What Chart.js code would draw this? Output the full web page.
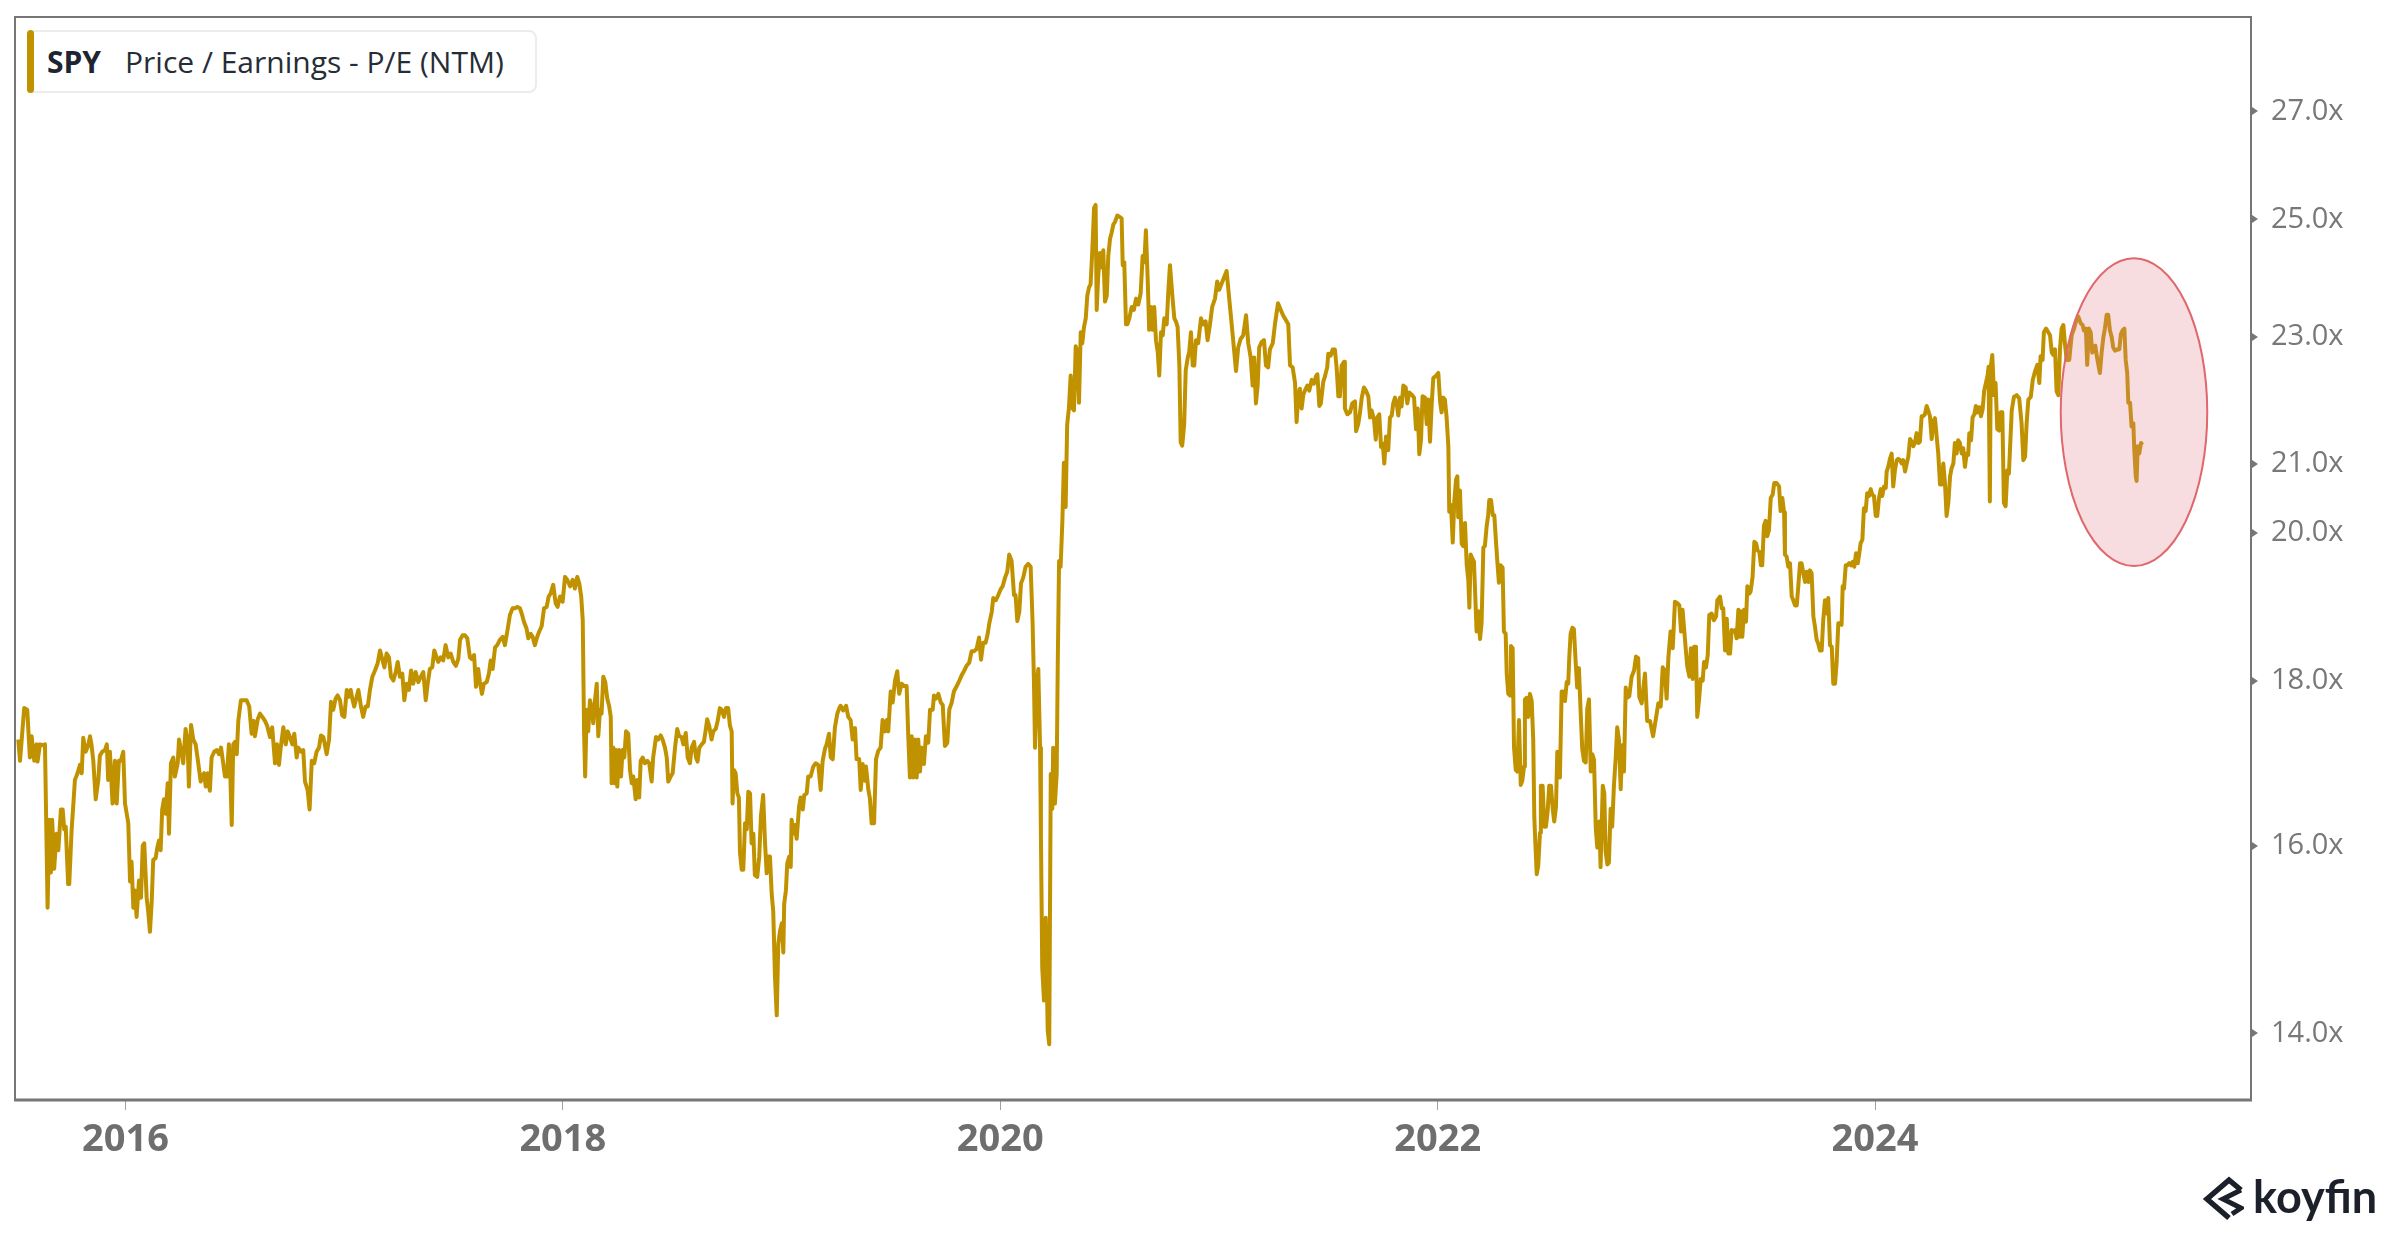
<!DOCTYPE html>
<html>
<head>
<meta charset="utf-8">
<title>SPY Price / Earnings - P/E (NTM)</title>
<script src="https://cdn.jsdelivr.net/npm/chart.js@4.4.1/dist/chart.umd.min.js"></script>
<style>
    html, body { margin: 0; padding: 0; background: #ffffff; }
    #wrap { position: relative; width: 2400px; height: 1240px; overflow: hidden; }
    #chart { position: absolute; left: 0; top: 0; }
    #legend {
        position: absolute; left: 27px; top: 30px; width: 510px; height: 63px;
        box-sizing: border-box; border: 2px solid #ececec; border-radius: 8px;
        font-family: "Open Sans", sans-serif; font-size: 30px; color: #262d36;
        background: #ffffff;
    }
    #legend .bar {
        position: absolute; left: -2px; top: -2px; bottom: -2px; width: 7px;
        background: #c19200; border-radius: 5px;
    }
    #legend .ticker { position: absolute; left: 18px; top: 50%; transform: translateY(-52%); font-weight: 700; color: #1e2530; }
    #legend .name { position: absolute; left: 96px; top: 50%; transform: translateY(-52%); }
    #logo { position: absolute; left: 2202px; top: 1176px; height: 46px; display: flex; align-items: center; }
    #logo span { font-family: Lato, sans-serif; font-weight: 700; font-size: 45px; color: #1b202a; margin-left: 9px; line-height: 46px; position: relative; top: -3px; }
</style>
</head>
<body>
<div id="wrap">
    <canvas id="chart" width="2400" height="1240"></canvas>
    <div id="legend"><div class="bar"></div><span class="ticker">SPY</span><span class="name">Price / Earnings - P/E (NTM)</span></div>
    <div id="logo">
        <svg width="42" height="46" viewBox="0 0 42 46">
            <path d="M39,14 L27,4 L5,23 L27,42" fill="none" stroke="#1b202a" stroke-width="5.5" stroke-linejoin="miter"/>
            <path d="M39,14 L21,23 L39,32 L30,38" fill="none" stroke="#1b202a" stroke-width="5" stroke-linejoin="miter"/>
        </svg>
        <span>koyfin</span>
    </div>
</div>
<script>
// SPY forward P/E (x = decimal year)
const years = [
    2015.510, 2015.518, 2015.537, 2015.551, 2015.563, 2015.571, 2015.583, 2015.594, 2015.598, 2015.609,
    2015.620, 2015.632, 2015.644, 2015.652, 2015.659, 2015.665, 2015.674, 2015.685, 2015.693, 2015.705,
    2015.713, 2015.720, 2015.727, 2015.738, 2015.743, 2015.754, 2015.761, 2015.769, 2015.781, 2015.792,
    2015.800, 2015.807, 2015.818, 2015.830, 2015.838, 2015.845, 2015.853, 2015.864, 2015.876, 2015.883,
    2015.894, 2015.906, 2015.915, 2015.921, 2015.929, 2015.941, 2015.952, 2015.960, 2015.970, 2015.979,
    2015.990, 2015.998, 2016.013, 2016.021, 2016.028, 2016.036, 2016.043, 2016.051, 2016.062, 2016.071,
    2016.079, 2016.086, 2016.097, 2016.104, 2016.112, 2016.120, 2016.127, 2016.138, 2016.145, 2016.153,
    2016.161, 2016.168, 2016.176, 2016.184, 2016.193, 2016.199, 2016.208, 2016.219, 2016.226, 2016.239,
    2016.245, 2016.257, 2016.264, 2016.275, 2016.284, 2016.290, 2016.300, 2016.310, 2016.321, 2016.333,
    2016.344, 2016.351, 2016.360, 2016.367, 2016.376, 2016.386, 2016.394, 2016.406, 2016.417, 2016.428,
    2016.437, 2016.447, 2016.455, 2016.464, 2016.473, 2016.478, 2016.486, 2016.493, 2016.501, 2016.509,
    2016.516, 2016.528, 2016.543, 2016.554, 2016.566, 2016.577, 2016.586, 2016.592, 2016.605, 2016.615,
    2016.626, 2016.638, 2016.648, 2016.661, 2016.671, 2016.684, 2016.693, 2016.702, 2016.710, 2016.722,
    2016.733, 2016.742, 2016.752, 2016.763, 2016.772, 2016.783, 2016.790, 2016.803, 2016.813, 2016.821,
    2016.833, 2016.842, 2016.852, 2016.863, 2016.874, 2016.885, 2016.894, 2016.905, 2016.920, 2016.931,
    2016.940, 2016.950, 2016.961, 2016.970, 2016.981, 2016.991, 2017.001, 2017.012, 2017.019, 2017.030,
    2017.037, 2017.046, 2017.057, 2017.065, 2017.077, 2017.087, 2017.098, 2017.108, 2017.118, 2017.129,
    2017.141, 2017.153, 2017.164, 2017.174, 2017.184, 2017.194, 2017.205, 2017.214, 2017.225, 2017.236,
    2017.245, 2017.255, 2017.266, 2017.275, 2017.286, 2017.296, 2017.306, 2017.316, 2017.327, 2017.339,
    2017.351, 2017.362, 2017.373, 2017.382, 2017.392, 2017.403, 2017.412,
    2017.430, 2017.441, 2017.453, 2017.464, 2017.476, 2017.487, 2017.499, 2017.511, 2017.522, 2017.530,
    2017.542, 2017.552, 2017.563, 2017.575, 2017.583, 2017.594, 2017.603, 2017.613, 2017.621, 2017.630,
    2017.639, 2017.652, 2017.662, 2017.670, 2017.679, 2017.690, 2017.700, 2017.712, 2017.725, 2017.735,
    2017.746, 2017.758, 2017.770, 2017.781, 2017.792, 2017.804, 2017.812, 2017.822, 2017.834, 2017.842,
    2017.853, 2017.862, 2017.872, 2017.883, 2017.892, 2017.903, 2017.914, 2017.926, 2017.935, 2017.944,
    2017.956, 2017.967, 2017.976, 2017.987, 2017.999, 2018.010, 2018.020, 2018.033, 2018.045, 2018.055,
    2018.066, 2018.075, 2018.084, 2018.091, 2018.097, 2018.102, 2018.109, 2018.116, 2018.124, 2018.133,
    2018.139, 2018.147, 2018.155, 2018.162, 2018.170, 2018.177, 2018.185, 2018.194, 2018.203, 2018.212,
    2018.219, 2018.223, 2018.231, 2018.237, 2018.243, 2018.249, 2018.257, 2018.266, 2018.273, 2018.281,
    2018.289, 2018.299, 2018.307, 2018.315, 2018.322, 2018.333, 2018.340, 2018.349, 2018.356, 2018.365,
    2018.375, 2018.386, 2018.395, 2018.406, 2018.413, 2018.426, 2018.436, 2018.447, 2018.456, 2018.467,
    2018.475, 2018.482, 2018.493, 2018.502, 2018.513, 2018.523, 2018.532, 2018.543, 2018.551, 2018.562,
    2018.571, 2018.581, 2018.589, 2018.600, 2018.609, 2018.616, 2018.624, 2018.635, 2018.645, 2018.654,
    2018.660, 2018.669, 2018.680, 2018.688, 2018.699, 2018.708, 2018.718, 2018.726, 2018.737, 2018.746,
    2018.756, 2018.764, 2018.772, 2018.776, 2018.782, 2018.790, 2018.798, 2018.805, 2018.810, 2018.818,
    2018.825, 2018.833, 2018.841, 2018.848, 2018.856, 2018.863, 2018.871, 2018.878, 2018.889, 2018.898,
    2018.906, 2018.916, 2018.924, 2018.932, 2018.939, 2018.947, 2018.955, 2018.962, 2018.970, 2018.978,
    2018.985, 2018.993, 2019.001, 2019.008, 2019.012, 2019.020, 2019.026, 2019.035, 2019.042, 2019.046,
    2019.054, 2019.061, 2019.069, 2019.080, 2019.087, 2019.097, 2019.104, 2019.115, 2019.122, 2019.133,
    2019.145, 2019.156, 2019.168, 2019.179, 2019.188, 2019.199, 2019.206, 2019.217, 2019.225, 2019.234,
    2019.244, 2019.255, 2019.264,
    2019.270, 2019.282, 2019.295, 2019.305, 2019.316, 2019.325, 2019.336, 2019.343, 2019.355, 2019.362,
    2019.371, 2019.381, 2019.386, 2019.397, 2019.404, 2019.412, 2019.423, 2019.432, 2019.442, 2019.453,
    2019.462, 2019.473, 2019.481, 2019.488, 2019.499, 2019.508, 2019.519, 2019.529, 2019.538, 2019.549,
    2019.560, 2019.572, 2019.579, 2019.587, 2019.595, 2019.602, 2019.610, 2019.618, 2019.625, 2019.633,
    2019.641, 2019.651, 2019.660, 2019.671, 2019.679, 2019.691, 2019.697, 2019.706, 2019.717, 2019.728,
    2019.737, 2019.747, 2019.758, 2019.767, 2019.778, 2019.788, 2019.801, 2019.813, 2019.824, 2019.834,
    2019.846, 2019.858, 2019.869, 2019.880, 2019.892, 2019.903, 2019.912, 2019.922, 2019.933, 2019.942,
    2019.950, 2019.961, 2019.968, 2019.980, 2019.991, 2020.002, 2020.011, 2020.022, 2020.032, 2020.041,
    2020.052, 2020.063, 2020.070, 2020.078, 2020.087, 2020.095, 2020.105, 2020.116, 2020.128, 2020.139,
    2020.148, 2020.154, 2020.159, 2020.166, 2020.174, 2020.182, 2020.186, 2020.192, 2020.200, 2020.208,
    2020.217, 2020.224, 2020.231, 2020.238, 2020.242, 2020.250, 2020.258, 2020.263, 2020.269, 2020.276,
    2020.284, 2020.291, 2020.299, 2020.306, 2020.314, 2020.322, 2020.329, 2020.337, 2020.345, 2020.352,
    2020.360, 2020.368, 2020.375, 2020.383, 2020.391, 2020.398, 2020.406, 2020.413, 2020.421, 2020.429,
    2020.436, 2020.441, 2020.448, 2020.456, 2020.464, 2020.471, 2020.479, 2020.487, 2020.494, 2020.502,
    2020.509, 2020.517, 2020.525, 2020.535, 2020.544, 2020.555, 2020.560, 2020.567, 2020.575, 2020.581,
    2020.590, 2020.601, 2020.611, 2020.621, 2020.631, 2020.642, 2020.651, 2020.659, 2020.666, 2020.674,
    2020.681, 2020.689, 2020.697, 2020.704, 2020.712, 2020.720, 2020.727, 2020.735, 2020.743, 2020.750,
    2020.761, 2020.768, 2020.776, 2020.788, 2020.796, 2020.803, 2020.811, 2020.819, 2020.825, 2020.832,
    2020.841, 2020.848, 2020.857, 2020.864, 2020.872, 2020.880, 2020.887, 2020.895, 2020.905, 2020.918,
    2020.928, 2020.939, 2020.948, 2020.959, 2020.969, 2020.982, 2020.992, 2021.001,
    2021.035, 2021.065, 2021.078, 2021.088, 2021.099, 2021.111, 2021.124, 2021.134, 2021.145, 2021.154,
    2021.161, 2021.169, 2021.177, 2021.184, 2021.195, 2021.206, 2021.215, 2021.225, 2021.233, 2021.246,
    2021.256, 2021.270, 2021.293, 2021.317, 2021.325, 2021.337, 2021.348, 2021.355, 2021.363, 2021.370,
    2021.378, 2021.386, 2021.393, 2021.404, 2021.413, 2021.424, 2021.434, 2021.444, 2021.450, 2021.459,
    2021.466, 2021.477, 2021.485, 2021.495, 2021.500, 2021.511, 2021.520, 2021.530, 2021.538, 2021.546,
    2021.553, 2021.561, 2021.572, 2021.576, 2021.587, 2021.599, 2021.610, 2021.622, 2021.627, 2021.637,
    2021.645, 2021.653, 2021.663, 2021.672, 2021.683, 2021.691, 2021.698, 2021.709, 2021.717, 2021.724,
    2021.733, 2021.741, 2021.749, 2021.756, 2021.764, 2021.774, 2021.782, 2021.790, 2021.797, 2021.805,
    2021.813, 2021.820, 2021.828, 2021.835, 2021.843, 2021.854, 2021.861, 2021.870, 2021.881, 2021.892,
    2021.901, 2021.909, 2021.916, 2021.924, 2021.931, 2021.942, 2021.950, 2021.957, 2021.965, 2021.973,
    2021.980, 2021.991, 2022.003, 2022.011, 2022.018, 2022.026, 2022.033, 2022.041, 2022.049, 2022.053,
    2022.061, 2022.069, 2022.076, 2022.084, 2022.090, 2022.094, 2022.102, 2022.110, 2022.117, 2022.125,
    2022.133, 2022.140, 2022.145, 2022.151, 2022.158, 2022.166, 2022.171, 2022.178, 2022.186, 2022.194,
    2022.201, 2022.209, 2022.216, 2022.224, 2022.231, 2022.236, 2022.244, 2022.252, 2022.259, 2022.267,
    2022.273, 2022.280, 2022.288, 2022.297, 2022.303, 2022.311, 2022.316, 2022.323, 2022.331, 2022.335,
    2022.343, 2022.349, 2022.357, 2022.364, 2022.372, 2022.380, 2022.387, 2022.395, 2022.399, 2022.407,
    2022.414, 2022.422, 2022.430, 2022.437, 2022.442, 2022.448, 2022.453, 2022.460, 2022.468, 2022.472,
    2022.480, 2022.488, 2022.495, 2022.503, 2022.510, 2022.518, 2022.526, 2022.533, 2022.541, 2022.547,
    2022.555, 2022.559, 2022.567, 2022.574, 2022.582, 2022.590, 2022.597, 2022.602, 2022.608, 2022.616,
    2022.623, 2022.631, 2022.638, 2022.646, 2022.654, 2022.661, 2022.669, 2022.677, 2022.684, 2022.692,
    2022.700, 2022.707, 2022.715, 2022.723, 2022.730, 2022.739, 2022.745, 2022.755, 2022.762, 2022.768,
    2022.776, 2022.783, 2022.791, 2022.798, 2022.806, 2022.814, 2022.821, 2022.829, 2022.837, 2022.844,
    2022.852, 2022.860, 2022.867, 2022.876, 2022.887, 2022.898, 2022.907, 2022.917,
    2022.922, 2022.933, 2022.948, 2022.958, 2022.971, 2022.985, 2023.009, 2023.020, 2023.029, 2023.039,
    2023.047, 2023.055, 2023.065, 2023.075, 2023.085, 2023.096, 2023.105, 2023.113, 2023.120, 2023.131,
    2023.141, 2023.151, 2023.158, 2023.166, 2023.173, 2023.181, 2023.187, 2023.195, 2023.203, 2023.212,
    2023.218, 2023.227, 2023.235, 2023.242, 2023.253, 2023.263, 2023.273, 2023.279, 2023.291, 2023.299,
    2023.306, 2023.314, 2023.322, 2023.329, 2023.337, 2023.344, 2023.352, 2023.360, 2023.367, 2023.375,
    2023.379, 2023.386, 2023.393, 2023.401, 2023.410, 2023.416, 2023.425, 2023.431, 2023.440, 2023.448,
    2023.456, 2023.463, 2023.471, 2023.478, 2023.484, 2023.492, 2023.500, 2023.507, 2023.515, 2023.523,
    2023.532, 2023.539, 2023.550, 2023.561, 2023.568, 2023.576, 2023.584, 2023.588, 2023.596, 2023.603,
    2023.611, 2023.619, 2023.626, 2023.634, 2023.642, 2023.649, 2023.657, 2023.664, 2023.672, 2023.680,
    2023.687, 2023.695, 2023.702, 2023.710, 2023.718, 2023.725, 2023.733, 2023.740, 2023.748, 2023.756,
    2023.763, 2023.771, 2023.779, 2023.786, 2023.794, 2023.802, 2023.809, 2023.817, 2023.824, 2023.832,
    2023.840, 2023.847, 2023.852, 2023.858, 2023.866, 2023.873, 2023.882, 2023.890, 2023.898, 2023.905,
    2023.913, 2023.921, 2023.928, 2023.934, 2023.942, 2023.949, 2023.957, 2023.964, 2023.972, 2023.980,
    2023.987, 2023.995, 2024.003, 2024.010, 2024.018, 2024.026, 2024.033, 2024.041, 2024.049, 2024.053,
    2024.060, 2024.068, 2024.076, 2024.083, 2024.091, 2024.099, 2024.106, 2024.114, 2024.122, 2024.129,
    2024.137, 2024.145, 2024.152, 2024.160, 2024.167, 2024.175, 2024.182, 2024.190, 2024.198, 2024.205,
    2024.213, 2024.220, 2024.228, 2024.236, 2024.243, 2024.251, 2024.259, 2024.266, 2024.274, 2024.282,
    2024.289, 2024.297, 2024.305, 2024.312, 2024.320, 2024.327, 2024.335, 2024.343, 2024.350, 2024.358,
    2024.365, 2024.373, 2024.380, 2024.388, 2024.396, 2024.403, 2024.411, 2024.419, 2024.426, 2024.431,
    2024.439, 2024.446, 2024.454, 2024.461, 2024.469, 2024.477, 2024.484, 2024.492, 2024.499, 2024.507,
    2024.515, 2024.519, 2024.525, 2024.529, 2024.536, 2024.544, 2024.551, 2024.559, 2024.567, 2024.574,
    2024.582, 2024.589, 2024.597, 2024.605, 2024.612,
    2024.625, 2024.635, 2024.648, 2024.659, 2024.670, 2024.678, 2024.686, 2024.693, 2024.701, 2024.712,
    2024.721, 2024.731, 2024.742, 2024.751, 2024.757, 2024.766, 2024.772, 2024.782, 2024.792, 2024.800,
    2024.808, 2024.815, 2024.823, 2024.830, 2024.838, 2024.846, 2024.853, 2024.861, 2024.868, 2024.876,
    2024.888, 2024.899, 2024.910, 2024.919, 2024.929, 2024.940, 2024.949, 2024.955, 2024.964, 2024.970,
    2024.978, 2024.986, 2024.993, 2025.001, 2025.007, 2025.013, 2025.021, 2025.028, 2025.036, 2025.044,
    2025.051, 2025.059, 2025.066, 2025.074, 2025.082, 2025.089, 2025.097, 2025.108, 2025.117, 2025.124,
    2025.132, 2025.140, 2025.146, 2025.153, 2025.158, 2025.166, 2025.173, 2025.181, 2025.185, 2025.192,
    2025.196, 2025.201, 2025.208, 2025.216, 2025.222
];

const peRatio = [
    17.26, 17.00, 17.65, 17.63, 17.04, 17.30, 17.00, 17.20, 16.99, 17.20,
    17.19, 17.20, 15.31, 16.30, 15.70, 16.30, 15.74, 16.14, 15.95, 16.42,
    16.42, 16.19, 16.22, 15.57, 15.57, 16.19, 16.45, 16.77, 16.85, 16.95,
    16.85, 17.28, 17.11, 17.19, 17.30, 17.19, 17.00, 16.54, 16.77, 17.06,
    17.11, 17.13, 17.20, 16.77, 17.11, 16.49, 17.00, 16.49, 17.00, 17.00,
    17.11, 16.49, 16.26, 15.60, 15.82, 15.31, 15.50, 15.21, 15.61, 15.42,
    16.00, 16.03, 15.42, 15.27, 15.05, 15.37, 15.84, 15.86, 15.97, 16.06,
    15.95, 16.42, 16.54, 16.37, 16.73, 16.14, 16.97, 17.04, 16.81, 16.97,
    17.26, 17.08, 16.97, 17.39, 17.25, 16.69, 17.44, 17.26, 17.20, 16.97,
    16.75, 16.81, 16.85, 16.69, 16.85, 16.64, 17.04, 17.11, 17.13, 17.08,
    17.16, 16.97, 16.81, 16.81, 17.20, 16.97, 16.24, 17.20, 17.23, 17.08,
    17.49, 17.75, 17.75, 17.75, 17.67, 17.33, 17.49, 17.30, 17.51, 17.58,
    17.54, 17.49, 17.43, 17.29, 17.41, 16.97, 17.20, 16.95, 17.16, 17.41,
    17.20, 17.36, 17.29, 17.20, 17.33, 17.04, 17.16, 17.11, 17.13, 16.75,
    16.65, 16.42, 17.00, 16.97, 17.11, 17.16, 17.31, 17.29, 17.08, 17.26,
    17.73, 17.63, 17.77, 17.81, 17.75, 17.56, 17.54, 17.88, 17.79, 17.88,
    17.77, 17.67, 17.79, 17.88, 17.67, 17.54, 17.67, 17.67, 17.88, 18.05,
    18.13, 18.22, 18.39, 18.28, 18.17, 18.35, 18.30, 18.05, 18.00, 18.11,
    18.24, 18.05, 18.09, 17.75, 17.96, 17.88, 18.13, 17.96, 18.11, 17.98,
    18.05, 18.11, 17.75, 17.96, 18.15, 18.17, 18.39,
    18.24, 18.30, 18.26, 18.46, 18.30, 18.35, 18.24, 18.19, 18.28, 18.53,
    18.59, 18.59, 18.55, 18.30, 18.28, 18.33, 17.92, 18.15, 17.98, 17.83,
    17.96, 17.98, 18.09, 18.26, 18.15, 18.43, 18.46, 18.53, 18.57, 18.46,
    18.64, 18.86, 18.95, 18.95, 18.97, 18.95, 18.88, 18.77, 18.68, 18.55,
    18.61, 18.57, 18.46, 18.57, 18.64, 18.71, 18.95, 18.97, 19.11, 19.15,
    19.27, 19.02, 18.97, 19.11, 19.04, 19.38, 19.34, 19.25, 19.34, 19.22,
    19.38, 19.29, 19.11, 18.79, 17.36, 16.81, 17.63, 17.36, 17.75, 17.63,
    17.46, 17.75, 17.96, 17.30, 17.63, 17.58, 18.05, 17.98, 17.77, 17.67,
    17.54, 16.73, 17.16, 16.73, 17.13, 16.69, 17.13, 16.81, 17.13, 17.04,
    17.36, 17.33, 16.89, 16.73, 16.81, 16.54, 16.77, 16.56, 17.00, 17.04,
    16.97, 17.00, 16.97, 16.75, 17.04, 17.29, 17.26, 17.31, 17.26, 17.16,
    17.04, 16.75, 16.81, 16.85, 17.16, 17.39, 17.30, 17.29, 17.20, 17.34,
    17.04, 16.97, 17.16, 17.23, 17.04, 16.99, 17.16, 17.20, 17.23, 17.39,
    17.51, 17.43, 17.26, 17.36, 17.39, 17.49, 17.65, 17.63, 17.54, 17.65,
    17.65, 17.43, 17.36, 16.49, 16.89, 16.85, 16.61, 16.56, 15.92, 15.73,
    15.73, 16.26, 16.19, 16.63, 16.61, 16.03, 16.14, 15.67, 15.65, 15.88,
    16.35, 16.59, 16.06, 15.69, 15.88, 15.88, 15.46, 15.27, 14.57, 14.18,
    14.92, 15.06, 15.14, 14.83, 15.35, 15.50, 15.80, 15.88, 15.76, 16.30,
    16.14, 16.24, 16.08, 16.45, 16.56, 16.42, 16.59, 16.61, 16.81, 16.81,
    16.93, 16.97, 16.95, 16.65, 17.00, 17.15, 17.20, 17.33, 17.04, 17.02,
    17.41, 17.58, 17.65,
    17.68, 17.62, 17.68, 17.54, 17.50, 17.26, 17.40, 17.02, 17.02, 16.65,
    16.96, 16.76, 16.93, 16.65, 16.55, 16.26, 16.26, 17.02, 17.12, 17.16,
    17.50, 17.36, 17.50, 17.36, 17.86, 17.72, 18.00, 18.12, 17.83, 17.96,
    17.93, 17.93, 17.33, 16.80, 17.30, 16.80, 17.26, 16.80, 17.26, 16.87,
    17.16, 16.96, 17.30, 17.22, 17.63, 17.63, 17.81, 17.77, 17.83, 17.72,
    17.69, 17.18, 17.22, 17.63, 17.72, 17.86, 17.93, 18.00, 18.07, 18.12,
    18.19, 18.23, 18.38, 18.38, 18.41, 18.56, 18.27, 18.49, 18.49, 18.60,
    18.75, 18.90, 19.09, 19.06, 19.13, 19.21, 19.25, 19.37, 19.45, 19.69,
    19.60, 19.13, 19.13, 18.78, 18.90, 19.29, 19.37, 19.52, 19.56, 19.52,
    18.75, 18.00, 17.16, 17.93, 18.15, 17.16, 16.10, 14.67, 14.33, 15.20,
    14.03, 13.89, 16.84, 16.43, 17.16, 16.49, 16.84, 18.23, 19.60, 19.52,
    20.16, 21.02, 20.37, 21.60, 21.86, 22.37, 21.86, 21.82, 22.84, 22.75,
    21.94, 23.07, 22.89, 23.16, 23.30, 23.68, 23.82, 23.87, 24.46, 25.21,
    25.26, 23.44, 24.02, 24.41, 24.16, 24.46, 23.58, 23.68, 24.36, 24.66,
    24.76, 24.91, 24.96, 25.07, 25.05, 25.02, 24.20, 24.25, 23.20, 23.20,
    23.30, 23.49, 23.44, 23.63, 23.53, 23.72, 24.36, 24.25, 24.81, 23.97,
    23.11, 23.49, 23.11, 23.49, 22.94, 22.75, 22.37, 23.07, 23.02, 23.30,
    23.20, 23.72, 24.20, 23.63, 23.30, 23.25, 23.16, 22.53, 21.33, 21.28,
    21.60, 22.45, 22.65, 22.75, 23.07, 22.53, 22.53, 22.94, 22.89, 23.30,
    23.20, 23.25, 22.94, 23.20, 23.49, 23.63, 23.92, 23.78,
    24.10, 22.94, 22.44, 22.82, 22.96, 23.02, 23.35, 22.89, 22.66, 22.21,
    22.66, 21.93, 22.21, 22.82, 22.91, 22.94, 22.53, 22.50, 22.79, 22.89,
    23.20, 23.55, 23.35, 23.20, 22.53, 22.50, 22.25, 21.64, 22.07, 22.16,
    21.85, 22.07, 22.13, 22.21, 22.13, 22.30, 22.24, 22.36, 22.39, 21.89,
    21.93, 22.27, 22.36, 22.50, 22.72, 22.69, 22.79, 22.79, 22.50, 22.04,
    22.04, 22.53, 22.59, 21.85, 21.76, 21.79, 21.93, 21.96, 21.50, 21.61,
    21.79, 22.02, 22.18, 22.13, 22.04, 21.71, 21.82, 21.68, 21.37, 21.71,
    21.76, 21.26, 21.31, 21.01, 21.42, 21.21, 21.71, 21.74, 21.93, 22.02,
    21.93, 21.74, 22.02, 21.88, 22.21, 22.18, 21.93, 22.10, 22.07, 22.02,
    21.53, 21.85, 21.15, 21.37, 22.04, 22.02, 21.61, 21.99, 21.34, 21.93,
    22.33, 22.36, 22.41, 21.96, 21.79, 22.02, 21.99, 21.71, 21.26, 20.30,
    20.40, 19.86, 20.45, 20.77, 20.82, 20.22, 20.61, 19.84, 19.81, 20.14,
    19.54, 19.34, 18.96, 19.69, 19.64, 19.59, 19.20, 18.64, 18.91, 18.54,
    18.76, 19.79, 19.81, 20.09, 20.25, 20.47, 20.47, 20.25, 20.25, 19.86,
    19.59, 19.30, 19.54, 19.51, 18.64, 18.61, 18.08, 17.83, 17.81, 18.45,
    18.42, 17.17, 16.89, 16.87, 17.50, 16.71, 16.76, 16.93, 17.76, 17.78,
    17.54, 17.83, 17.74, 17.26, 16.33, 15.96, 15.68, 15.78, 16.15, 16.70,
    16.70, 16.22, 16.22, 16.40, 16.70, 16.70, 16.43, 16.28, 16.45, 17.11,
    17.08, 16.80, 17.86, 17.86, 17.74, 17.98, 17.96, 18.31, 18.61, 18.69,
    18.67, 18.24, 17.91, 18.16, 17.59, 17.15, 17.00, 16.98, 17.64, 17.76,
    16.87, 17.08, 17.01, 16.20, 15.98, 16.28, 15.76, 16.70, 16.61, 15.94,
    15.79, 15.81, 16.43, 16.22, 16.70, 17.03, 17.41, 17.26, 16.66, 17.19,
    16.87, 17.91, 17.78, 17.80, 18.05, 18.13, 18.31, 18.29,
    17.79, 17.71, 18.09, 17.49, 17.49, 17.30, 17.71, 17.67, 18.17, 18.13,
    17.77, 18.30, 18.64, 18.42, 19.04, 19.02, 18.99, 18.64, 18.93, 18.53,
    18.19, 18.05, 18.42, 18.02, 18.44, 18.44, 17.54, 17.75, 18.02, 18.00,
    18.24, 18.17, 18.33, 18.86, 18.88, 18.79, 18.84, 19.06, 19.11, 18.95,
    18.95, 18.39, 18.81, 18.35, 18.35, 18.66, 18.64, 18.66, 18.55, 18.93,
    18.57, 18.91, 18.57, 18.93, 18.77, 19.25, 19.15, 19.18, 19.38, 19.87,
    19.85, 19.75, 19.73, 19.54, 19.54, 20.10, 20.17, 19.95, 20.04, 20.50,
    20.55, 20.72, 20.72, 20.67, 20.31, 20.50, 20.29, 19.69, 19.66, 19.52,
    19.57, 19.11, 19.06, 18.99, 18.99, 19.25, 19.57, 19.57, 19.43, 19.31,
    19.45, 19.31, 19.47, 19.43, 18.84, 18.71, 18.53, 18.48, 18.39, 18.39,
    18.79, 19.06, 18.88, 19.09, 18.46, 18.44, 17.96, 17.96, 18.22, 18.75,
    18.75, 18.73, 19.25, 19.22, 19.54, 19.54, 19.57, 19.54, 19.59, 19.52,
    19.71, 19.57, 19.71, 19.85, 19.90, 20.35, 20.31, 20.57, 20.53, 20.63,
    20.55, 20.53, 20.24, 20.24, 20.50, 20.63, 20.53, 20.67, 20.65, 20.89,
    20.96, 21.08, 21.16, 20.67, 20.91, 21.06, 21.08, 21.06, 21.01, 21.06,
    20.89, 21.01, 21.11, 21.38, 21.34, 21.27, 21.32, 21.47, 21.32, 21.34,
    21.73, 21.73, 21.76, 21.89, 21.82, 21.73, 21.38, 21.65, 21.70, 21.41,
    21.16, 20.70, 20.70, 21.01, 20.70, 20.24, 20.43, 20.82, 20.94, 21.01,
    21.32, 21.16, 21.36, 21.32, 21.16, 21.24, 20.96, 21.16, 21.14, 21.47,
    21.36, 21.71, 21.76, 21.89, 21.79, 21.87, 21.73, 21.84, 22.13, 22.25,
    22.38, 22.51, 20.45, 22.51, 22.70, 22.06, 22.25, 21.53, 21.51, 21.79,
    21.79, 20.43, 20.38, 20.91, 20.86,
    21.82, 22.03, 22.06, 22.01, 21.62, 21.06, 21.11, 21.62, 21.99, 22.03,
    22.30, 22.43, 22.54, 22.25, 22.68, 22.62, 23.07, 23.13, 23.07, 23.02,
    22.74, 22.70, 22.79, 22.12, 22.06, 22.82, 23.13, 23.19, 22.89, 22.62,
    22.62, 23.02, 23.13, 23.25, 23.33, 23.22, 23.19, 23.10, 23.13, 22.54,
    23.13, 23.07, 22.74, 22.79, 22.85, 22.70, 22.54, 22.41, 22.74, 22.99,
    23.13, 23.36, 23.36, 23.10, 22.99, 22.82, 22.77, 22.79, 22.79, 23.04,
    23.10, 23.13, 22.62, 22.41, 21.94, 21.94, 21.57, 21.62, 21.24, 20.82,
    20.75, 21.27, 21.16, 21.32, 21.29
];

const yTickValues = [14, 16, 18, 20, 21, 23, 25, 27];
const xTickYears = [2016, 2018, 2020, 2022, 2024];
const xRange = [2015.495, 2025.719];
const yRange = [13.35, 28.88];

// the circled recent drop: bounds in data units
const highlightX = [2024.849, 2025.519];
const highlightY = [19.53, 24.32];

const lineColor = '#c19200';
const frameColor = '#767676';

const framePlugin = {
    id: 'frame',
    beforeDatasetsDraw(chart) {
        const { ctx, chartArea: a } = chart;
        ctx.save();
        ctx.strokeStyle = frameColor;
        ctx.lineWidth = 2;
        ctx.strokeRect(a.left, a.top, a.right - a.left, a.bottom - a.top);
        ctx.lineWidth = 3;
        ctx.beginPath();
        ctx.moveTo(a.left - 1, a.bottom);
        ctx.lineTo(a.right + 1, a.bottom);
        ctx.stroke();
        ctx.restore();
    },
    afterDraw(chart) {
        // small arrow heads on the right axis
        const { ctx, chartArea: a, scales: { y } } = chart;
        ctx.save();
        ctx.fillStyle = frameColor;
        y.ticks.forEach(t => {
            const py = Math.round(y.getPixelForValue(t.value));
            ctx.beginPath();
            ctx.moveTo(a.right + 1, py - 4);
            ctx.lineTo(a.right + 7, py);
            ctx.lineTo(a.right + 1, py + 4);
            ctx.closePath();
            ctx.fill();
        });
        ctx.restore();
    }
};

const highlightPlugin = {
    id: 'highlight',
    afterDatasetsDraw(chart) {
        const { ctx, scales: { x, y } } = chart;
        const left = x.getPixelForValue(highlightX[0]);
        const right = x.getPixelForValue(highlightX[1]);
        const top = y.getPixelForValue(highlightY[1]);
        const bottom = y.getPixelForValue(highlightY[0]);
        ctx.save();
        ctx.beginPath();
        ctx.ellipse((left + right) / 2, (top + bottom) / 2, (right - left) / 2, (bottom - top) / 2, 0, 0, Math.PI * 2);
        ctx.fillStyle = 'rgba(225, 130, 135, 0.27)';
        ctx.fill();
        ctx.lineWidth = 2;
        ctx.strokeStyle = '#e0676c';
        ctx.stroke();
        ctx.restore();
    }
};

new Chart(document.getElementById('chart').getContext('2d'), {
    type: 'line',
    data: {
        datasets: [{
            label: 'SPY Price / Earnings - P/E (NTM)',
            data: years.map((yr, i) => ({ x: yr, y: peRatio[i] })),
            borderColor: lineColor,
            borderWidth: 4,
            borderJoinStyle: 'round',
            pointRadius: 0,
            tension: 0,
            fill: false
        }]
    },
    options: {
        responsive: false,
        animation: false,
        devicePixelRatio: 1,
        layout: { padding: { left: 15, top: 17, right: 0, bottom: 0 } },
        plugins: {
            legend: { display: false },
            tooltip: { enabled: false }
        },
        scales: {
            x: {
                type: 'linear',
                min: xRange[0],
                max: xRange[1],
                afterBuildTicks: scale => { scale.ticks = xTickYears.map(v => ({ value: v })); },
                afterFit: scale => {
                    scale.height = 140;
                    scale.paddingLeft = 0;
                    scale.paddingRight = 0;
                },
                grid: { display: true, drawOnChartArea: false, drawTicks: true, tickLength: 10, color: '#a0a0a0', lineWidth: 1 },
                border: { display: false },
                ticks: {
                    color: '#6e6e6e',
                    font: { family: '"Open Sans", sans-serif', size: 38, weight: 'bold' },
                    padding: 7,
                    maxRotation: 0,
                    autoSkip: false,
                    callback: v => String(v)
                }
            },
            y: {
                type: 'logarithmic',
                position: 'right',
                min: yRange[0],
                max: yRange[1],
                afterBuildTicks: scale => { scale.ticks = yTickValues.map(v => ({ value: v })); },
                afterFit: scale => {
                    // keep the plot frame where the layout padding puts it
                    scale.width = 149;
                    scale.paddingTop = 0;
                    scale.paddingBottom = 0;
                },
                grid: { display: false },
                border: { display: false },
                ticks: {
                    color: '#787878',
                    font: { family: '"Open Sans", sans-serif', size: 29, weight: '500' },
                    padding: 12,
                    autoSkip: false,
                    callback: v => Number(v).toFixed(1) + 'x'
                }
            }
        }
    },
    plugins: [framePlugin, highlightPlugin]
});
</script>
</body>
</html>
